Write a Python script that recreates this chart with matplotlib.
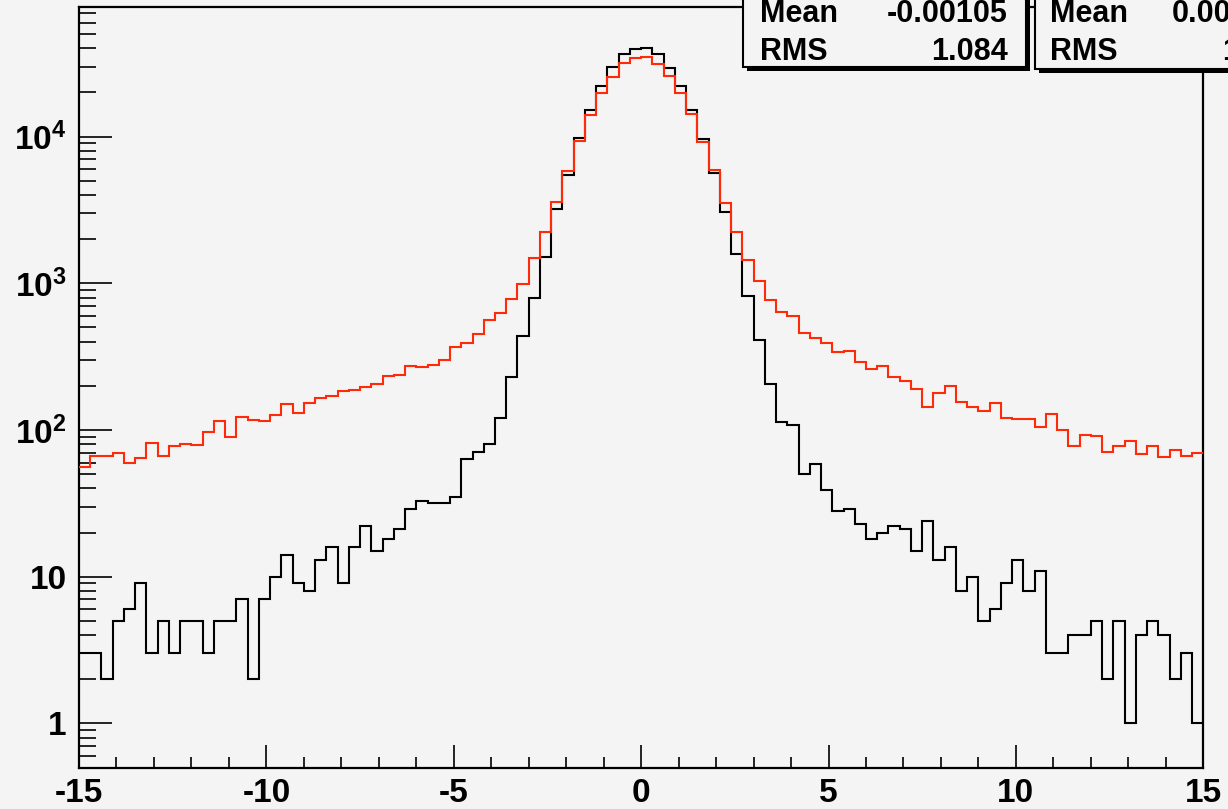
import matplotlib
matplotlib.use('Agg')
import matplotlib.pyplot as plt
import numpy as np
from matplotlib.patches import Rectangle
from matplotlib.ticker import FixedLocator, FixedFormatter, LogLocator, NullFormatter

# ---------------- data ----------------
x_min, x_max, n_bins = -15.0, 15.0, 100

black_counts = [3, 3, 2, 5, 6, 9, 3, 5, 3, 5, 5, 3, 5, 5, 7, 2, 7, 10, 14, 9,
                8, 13, 16, 9, 16, 22, 15, 18, 21, 29, 33, 32, 32, 35, 63, 71, 80, 121, 229, 440,
                798, 1503, 3193, 5470, 9730, 15200, 22100, 30000, 36400, 39700,
                40300, 36400, 29500, 22200, 15200, 9590, 5680, 3076, 1577, 820,
                411, 207, 113, 108, 50, 59, 39, 28, 29, 23, 18, 20, 22, 21, 15, 24, 13, 16, 8, 10,
                5, 6, 9, 13, 8, 11, 3, 3, 4, 4, 5, 2, 5, 1, 4, 5, 4, 2, 3, 1]

red_counts = [56, 66, 66, 70, 60, 64, 82, 66, 78, 80, 79, 97, 116, 90, 123, 117, 115, 126, 151, 131,
              153, 164, 171, 184, 187, 197, 207, 232, 236, 272, 270, 277, 300, 369, 392, 454, 560, 628, 782, 994,
              1495, 2229, 3584, 5860, 9290, 14100, 19900, 25600, 31600, 34500,
              35000, 31400, 26000, 19900, 14300, 9190, 5920, 3545, 2240, 1442,
              1037, 770, 637, 598, 460, 422, 390, 338, 344, 289, 262, 274, 230, 215, 190, 144, 179, 200, 156, 143,
              134, 153, 121, 119, 119, 105, 128, 100, 78, 92, 91, 71, 78, 84, 69, 78, 65, 73, 66, 70]

x_ticks = [-15, -10, -5, 0, 5, 10, 15]
x_tick_labels = ['-15', '-10', '-5', '0', '5', '10', '15']
y_ticks = [1, 10, 100, 1000, 10000]
y_tick_labels = ['1', '10', r'$\mathbf{10^{2}}$', r'$\mathbf{10^{3}}$', r'$\mathbf{10^{4}}$']

stats1 = [('Mean', '-0.00105'), ('RMS', '1.084')]
stats2 = [('Mean', '0.001052'), ('RMS', '1.079')]

# ---------------- style ----------------
plt.rcParams['font.family'] = ['Liberation Sans', 'DejaVu Sans']
plt.rcParams['font.weight'] = 'bold'
plt.rcParams['mathtext.fontset'] = 'custom'
plt.rcParams['mathtext.bf'] = 'Liberation Sans:bold'
plt.rcParams['mathtext.rm'] = 'Liberation Sans:bold'

W, H = 1228, 809
bg = '#f4f4f4'
red = '#ff2a0a'

fig = plt.figure(figsize=(W / 100, H / 100), dpi=100, facecolor=bg)
ax = fig.add_axes([79 / W, 1 - 768.3 / H, (1203.3 - 79) / W, (768.3 - 7.2) / H])
ax.set_facecolor(bg)

edges = np.linspace(x_min, x_max, n_bins + 1)
ax.stairs(black_counts, edges, baseline=None, color='black', lw=1.5, zorder=3)
ax.stairs(red_counts, edges, baseline=None, color=red, lw=1.5, zorder=4)

ax.set_yscale('log')
ax.set_xlim(x_min, x_max)
ax.set_ylim(0.494, 7.63e4)

ax.xaxis.set_major_locator(FixedLocator(x_ticks))
ax.xaxis.set_major_formatter(FixedFormatter(x_tick_labels))
ax.xaxis.set_minor_locator(FixedLocator(list(range(-15, 16))))
ax.yaxis.set_major_locator(FixedLocator(y_ticks))
ax.yaxis.set_major_formatter(FixedFormatter(y_tick_labels))
ax.yaxis.set_minor_locator(LogLocator(base=10, subs=np.arange(2, 10), numticks=20))
ax.yaxis.set_minor_formatter(NullFormatter())

ax.tick_params(axis='both', which='both', direction='in', top=False, right=False,
               width=1.2, colors='black', labelsize=24)
ax.tick_params(axis='y', which='major', length=24, pad=9)
ax.tick_params(axis='y', which='minor', length=12)
ax.tick_params(axis='x', which='major', length=16.5, pad=7)
ax.tick_params(axis='x', which='minor', length=8)
for lab in ax.get_xticklabels() + ax.get_yticklabels():
    lab.set_fontweight('bold')
for s in ax.spines.values():
    s.set_linewidth(1.6)


# ---------------- stat boxes ----------------
def fx(px):
    return px / W


def fy(py):
    return 1 - py / H


def stat_box(x0, x1, ybot, rows, label_x, val_x, val_ha):
    top = -10
    # shadow
    fig.add_artist(Rectangle((fx(x0 + 4), fy(ybot + 4)), fx(x1 - x0), (ybot - top) / H,
                             transform=fig.transFigure, facecolor='black', edgecolor='black',
                             lw=0, zorder=10))
    fig.add_artist(Rectangle((fx(x0), fy(ybot)), fx(x1 - x0), (ybot - top) / H,
                             transform=fig.transFigure, facecolor=bg, edgecolor='black',
                             lw=1.5, zorder=11))
    for (lab, val), base in zip(rows, [21.7, 60]):
        fig.text(fx(label_x), fy(base), lab, fontsize=22, fontweight='bold',
                 ha='left', va='baseline', zorder=12)
        fig.text(fx(val_x), fy(base), val, fontsize=22, fontweight='bold',
                 ha=val_ha, va='baseline', zorder=12)


stat_box(743, 1026, 67, stats1, 760, 1008, 'right')
stat_box(1035, 1320, 69, stats2, 1050, 1299, 'right')

fig.savefig('out.png', dpi=100, facecolor=bg)
